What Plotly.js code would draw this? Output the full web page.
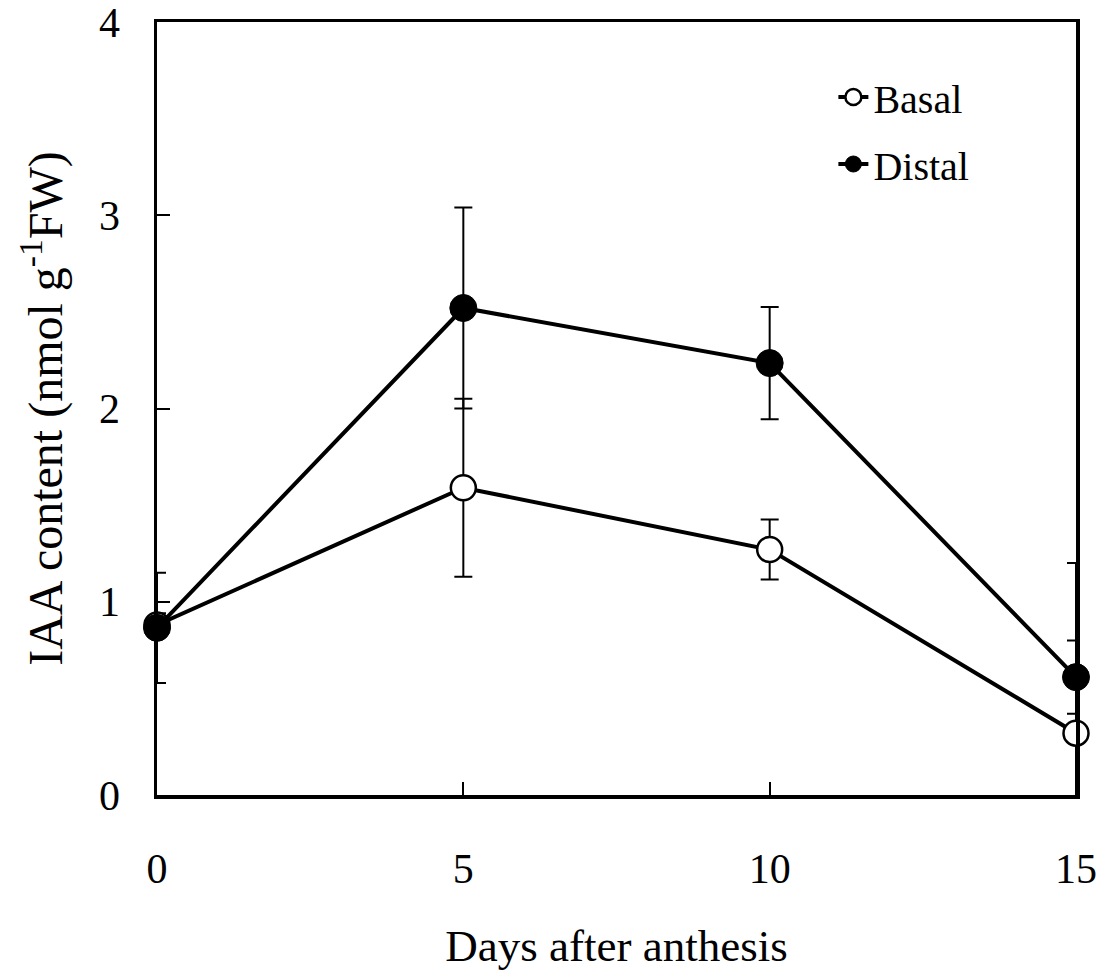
<!DOCTYPE html>
<html>
<head>
<meta charset="utf-8">
<script src="https://cdn.plot.ly/plotly-3.0.1.min.js"></script>
<style>html,body{margin:0;padding:0;background:#fff;}#chart{width:1102px;height:971px;}</style>
</head>
<body>
<div id="chart"></div>
<script>
// Data
var days = [0, 5, 10, 15];
var basalIAA = [0.88, 1.59, 1.27, 0.32];
var basalErr = [0.06, 0.46, 0.155, 0.88];
var distalIAA = [0.865, 2.52, 2.235, 0.61];
var distalErr = [0.285, 0.52, 0.29, 0.19];
var xTickVals = [0, 5, 10, 15];
var yTickVals = [0, 1, 2, 3, 4];

var FONT = "Liberation Serif, Times New Roman, serif";

var basal = {
  x: days, y: basalIAA, name: "Basal", type: "scatter", mode: "lines+markers",
  legendgroup: "b",
  line: {color: "#000", width: 4},
  marker: {symbol: "circle", size: 25, color: "#fff", line: {color: "#000", width: 2.5}},
  error_y: {type: "data", array: basalErr, visible: true, color: "#000", thickness: 2, width: 9},
  cliponaxis: false
};
var distal = {
  x: days, y: distalIAA, name: "Distal", type: "scatter", mode: "lines+markers",
  legendgroup: "d",
  line: {color: "#000", width: 4},
  marker: {symbol: "circle", size: 27, color: "#000", line: {color: "#000", width: 1}},
  error_y: {type: "data", array: distalErr, visible: true, color: "#000", thickness: 2, width: 9},
  cliponaxis: false
};

var layout = {
  width: 1102, height: 971,
  margin: {l: 157, r: 26, t: 22, b: 176},
  paper_bgcolor: "#fff", plot_bgcolor: "#fff",
  font: {family: FONT, color: "#000", size: 42},
  showlegend: true,
  legend: {
    x: 0.736, y: 0.945, xanchor: "left", yanchor: "top",
    traceorder: "grouped", tracegroupgap: 12,
    bgcolor: "rgba(0,0,0,0)", borderwidth: 0,
    font: {family: FONT, size: 40, color: "#000"}
  },
  xaxis: {
    range: [0, 15], tickvals: xTickVals, ticktext: xTickVals.map(String),
    ticks: "inside", ticklen: 13, tickwidth: 2, tickcolor: "#000",
    showline: true, linewidth: 3.5, linecolor: "#000", mirror: true,
    showgrid: false, zeroline: false,
    ticklabelstandoff: 34, ticklabeloverflow: "allow",
    tickfont: {family: FONT, size: 42, color: "#000"},
    title: {text: "Days after anthesis", standoff: 42, font: {family: FONT, size: 45, color: "#000"}}
  },
  yaxis: {
    range: [0, 4], tickvals: yTickVals, ticktext: yTickVals.map(String),
    ticks: "inside", ticklen: 13, tickwidth: 2, tickcolor: "#000",
    showline: true, linewidth: 3.5, linecolor: "#000", mirror: true,
    showgrid: false, zeroline: false,
    ticklabelstandoff: 25, ticklabeloverflow: "allow",
    tickfont: {family: FONT, size: 42, color: "#000"},
    title: {text: "IAA content (nmol g<sup>-1</sup>FW)", standoff: 22, font: {family: FONT, size: 48, color: "#000"}}
  }
};

Plotly.newPlot("chart", [basal, distal], layout, {displayModeBar: false, staticPlot: true});
</script>
</body>
</html>
